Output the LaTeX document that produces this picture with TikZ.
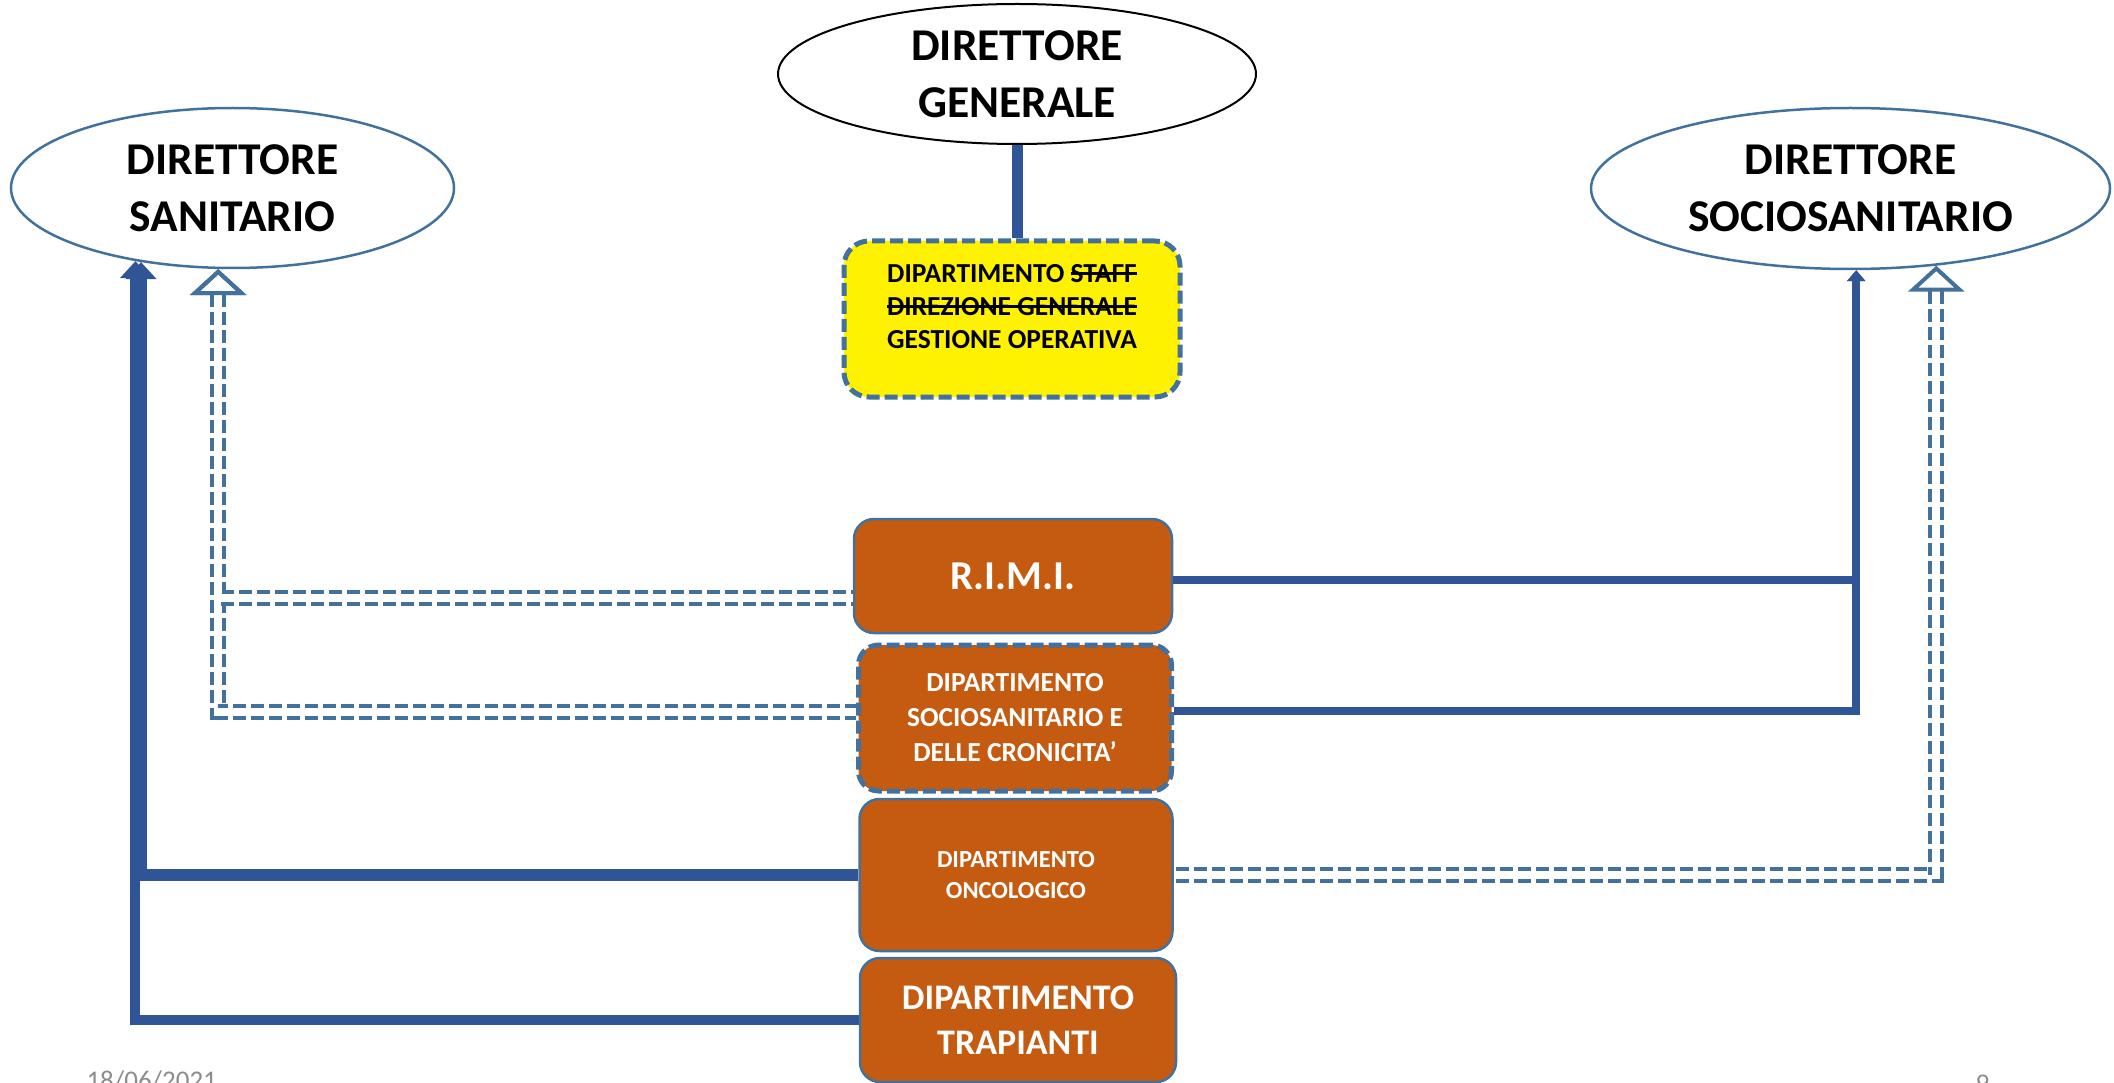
\documentclass[tikz,border=0pt]{standalone}
\usepackage{fontspec}
\setmainfont{Carlito}
\usetikzlibrary{arrows.meta,shapes.geometric}
\definecolor{deptorange}{HTML}{C55A11}
\definecolor{edgeblue}{HTML}{41719C}
\definecolor{linkblue}{HTML}{2F5597}
\definecolor{footgray}{HTML}{8C8C8C}
\newsavebox\strikebox
\newcommand{\strikeword}[1]{\sbox\strikebox{#1}\rlap{\rule[0.27em]{\wd\strikebox}{2.5pt}}\usebox\strikebox}

\begin{document}
\begin{tikzpicture}[x=1pt,y=-1pt,
	director/.style={ellipse,draw=edgeblue,line width=2.5pt,inner sep=0pt,align=center,
		font=\fontsize{45.5}{57}\selectfont\bfseries},
	dept/.style={rectangle,rounded corners=20pt,draw=edgeblue,line width=2.5pt,
		fill=deptorange,text=white,align=center,inner sep=0pt},
	dashedge/.style={line width=5pt,dash pattern=on 13pt off 5pt},
	boldlink/.style={draw=linkblue,-{Triangle[length=17pt,width=30pt]}},
	thinlink/.style={draw=linkblue,line width=8.5pt,-{Triangle[length=11pt,width=18pt]}},
	dashlink/.style={draw=edgeblue,line width=4pt,double=white,double distance=8pt,
		dash pattern=on 13pt off 5pt,{Triangle[open,length=26pt,width=56pt]}-},
	foot/.style={anchor=base west,text=footgray,font=\fontsize{27}{32}\selectfont}]
	%%%%% START %%%%%
	\useasboundingbox (0,0) rectangle (2114,1083);
	
	% directors
	\node[director,draw=black,line width=2pt,minimum width=478pt,minimum height=140pt] (dg) at (1017,74) {DIRETTORE\\GENERALE};
	\node[director,minimum width=443pt,minimum height=160pt] (ds) at (232.5,188) {DIRETTORE\\SANITARIO};
	\node[director,minimum width=519pt,minimum height=161pt] (dss) at (1850.5,188.5) {DIRETTORE\\SOCIOSANITARIO};
	
	% departments
	\node[dept,dashedge,fill=yellow,text=black,rounded corners=25pt,minimum width=336pt,minimum height=156pt,
		font=\fontsize{27.5}{33}\selectfont\bfseries] (staff) at (1012,319)
		{DIPARTIMENTO \strikeword{STAFF}\\\strikeword{DIREZIONE GENERALE}\\GESTIONE OPERATIVA\\[-7pt]\mbox{}};
	\node[dept,minimum width=318pt,minimum height=114pt,font=\fontsize{41}{50}\selectfont\bfseries] (rimi) at (1013,576) {R.I.M.I.};
	\node[dept,dashedge,minimum width=313pt,minimum height=146pt,font=\fontsize{27.5}{35}\selectfont\bfseries] (soc) at (1015,718)
		{DIPARTIMENTO\\SOCIOSANITARIO E\\DELLE CRONICITA’};
	\node[dept,minimum width=313pt,minimum height=152pt,font=\fontsize{24.5}{31}\selectfont\bfseries] (onco) at (1016,875)
		{DIPARTIMENTO\\ONCOLOGICO};
	\node[dept,minimum width=316pt,minimum height=124pt,font=\fontsize{36}{44.5}\selectfont\bfseries] (trap) at (1018,1020)
		{DIPARTIMENTO\\TRAPIANTI};
	
	% links
	\draw[draw=linkblue,line width=11pt] (dg.south) -- (dg.south |- staff.north);
	\draw[boldlink,line width=10pt] (trap.west) -| (ds.-143.95);
	\draw[boldlink,line width=12pt] (onco.west) -| (ds.-141.83);
	\draw[dashlink] (ds.-100) |- ([yshift=6.5pt]soc.west);
	\draw[dashlink] (ds.-100) |- ([yshift=-21.5pt]rimi.west);
	\draw[thinlink] ([yshift=-4pt]rimi.east) -| (dss.-86.1);
	\draw[thinlink] ([yshift=7pt]soc.east) -| (dss.-86.1);
	\draw[dashlink] (dss.-42.76) |- (onco.east);
	
	% footer
	\node[foot] (date) at (83,1089) {18/06/2021};
	\node[foot] (page) at (1972,1092) {9};
	%%%%% END %%%%%
\end{tikzpicture}
\end{document}
